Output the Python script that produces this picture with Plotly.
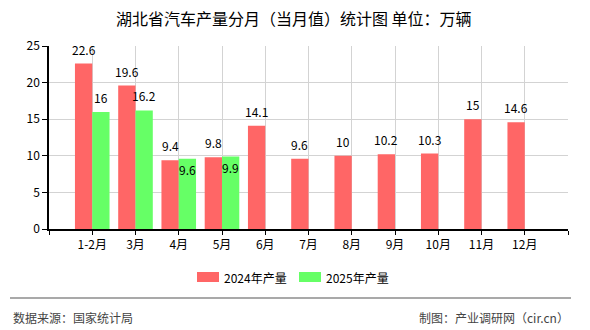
import plotly.graph_objects as go

# Monthly car output in Hubei (10k units)
months = ["1-2月", "3月", "4月", "5月", "6月", "7月", "8月", "9月", "10月", "11月", "12月"]
output_2024 = [22.6, 19.6, 9.4, 9.8, 14.1, 9.6, 10, 10.2, 10.3, 15, 14.6]
output_2025 = [16, 16.2, 9.6, 9.9, None, None, None, None, None, None, None]
y_ticks = [0, 5, 10, 15, 20, 25]

RED = "#FF6666"
GREEN = "#66FF66"
FONT = "Noto Sans CJK SC, sans-serif"

xs = list(range(len(months)))
BAR_W = 0.4

fig = go.Figure()
fig.add_trace(go.Bar(x=xs, y=output_2024, name="2024年产量", marker_color=RED,
                     marker_line_width=0, showlegend=False))
fig.add_trace(go.Bar(x=xs, y=output_2025, name="2025年产量", marker_color=GREEN,
                     marker_line_width=0, showlegend=False))

def fmt(v):
    return f"{v:g}"

annotations = []
for i, (r, g) in enumerate(zip(output_2024, output_2025)):
    annotations.append(dict(x=i - BAR_W / 2, y=r, xref="x", yref="y", text=fmt(r),
                            showarrow=False, yanchor="bottom", yshift=4,
                            font=dict(size=12, color="#000", family=FONT)))
    if g is not None:
        # when both labels would collide, the 2025 label goes just inside its bar
        inside = abs(g - r) < 1
        annotations.append(dict(x=i + BAR_W / 2, y=g, xref="x", yref="y", text=fmt(g),
                                showarrow=False,
                                yanchor="top" if inside else "bottom",
                                yshift=0 if inside else 4,
                                font=dict(size=12, color="#000", family=FONT)))

# Plot-area geometry in pixels, used to place title, legend and footer
L, R, T, B = 49, 568, 46, 229
def px(xp):
    return (xp - L) / (R - L)
def py(yp):
    return (B - yp) / (B - T)

# Title
annotations.append(dict(x=px(294), y=py(18), xref="paper", yref="paper",
                        text="湖北省汽车产量分月（当月值）统计图 单位：万辆", showarrow=False,
                        xanchor="center", yanchor="middle",
                        font=dict(size=16, color="#000", family=FONT)))

shapes = []
# Legend drawn with swatches and labels
legend_items = [(197, "2024年产量", RED), (299, "2025年产量", GREEN)]
for x0, label, col in legend_items:
    shapes.append(dict(type="rect", xref="paper", yref="paper",
                       x0=px(x0), x1=px(x0 + 22), y0=py(282), y1=py(272),
                       fillcolor=col, line=dict(width=0)))
    annotations.append(dict(x=px(x0 + 25), y=py(277), xref="paper", yref="paper",
                            text=label, showarrow=False, xanchor="left", yanchor="middle",
                            font=dict(size=12, color="#000", family=FONT)))

# Footer rule and source notes
shapes.append(dict(type="line", xref="paper", yref="paper",
                   x0=px(10), x1=px(571), y0=py(298), y1=py(298),
                   line=dict(color="#8C8C8C", width=1.5)))
annotations.append(dict(x=px(11), y=py(317), xref="paper", yref="paper",
                        text="数据来源：国家统计局", showarrow=False,
                        xanchor="left", yanchor="middle",
                        font=dict(size=12, color="#444", family=FONT)))
annotations.append(dict(x=px(571), y=py(317), xref="paper", yref="paper",
                        text="制图：产业调研网（cir.cn）", showarrow=False,
                        xanchor="right", yanchor="middle",
                        font=dict(size=12, color="#444", family=FONT)))

fig.update_layout(
    width=590, height=330,
    margin=dict(l=L, r=590 - R, t=T, b=330 - B),
    paper_bgcolor="white", plot_bgcolor="white",
    barmode="group", bargap=0.2, bargroupgap=0,
    showlegend=False,
    annotations=annotations, shapes=shapes,
    font=dict(family=FONT, size=12, color="#000"),
)
fig.update_xaxes(
    range=[-1, len(months)],
    tickmode="array",
    tickvals=[-1] + xs + [len(months)],
    ticktext=[""] + months + [""],
    showgrid=True, gridcolor="#D3D3D3", gridwidth=1,
    showline=True, linecolor="#000", linewidth=1.5,
    ticks="outside", ticklen=4, tickcolor="#000",
    tickfont=dict(size=12, family=FONT, color="#000"),
    zeroline=False, fixedrange=True,
)
fig.update_yaxes(
    range=[0, 25],
    tickvals=y_ticks,
    showgrid=True, gridcolor="#D3D3D3", gridwidth=1,
    showline=True, linecolor="#000", linewidth=1.5,
    ticks="outside", ticklen=5, tickcolor="#000",
    tickfont=dict(size=12, family=FONT, color="#000"),
    zeroline=False, fixedrange=True,
)

fig.write_html("out.html")
